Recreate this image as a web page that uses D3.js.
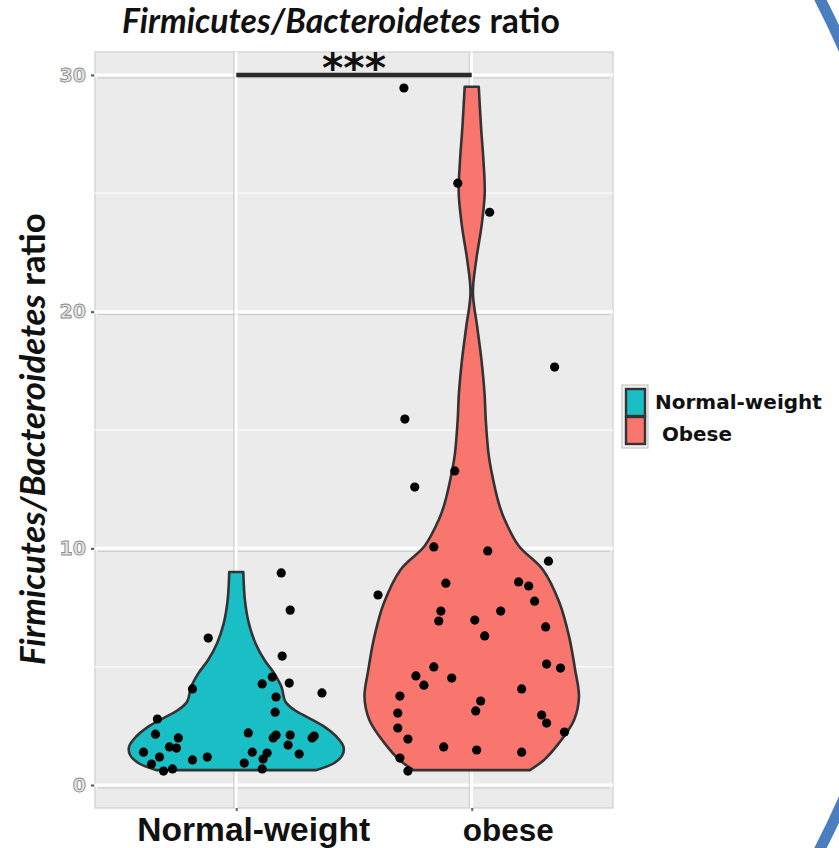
<!DOCTYPE html>
<html>
<head>
<meta charset="utf-8">
<script src="https://cdn.jsdelivr.net/npm/d3@7"></script>
<style>
  html, body { margin: 0; padding: 0; background: #fff; }
  svg { display: block; }
</style>
</head>
<body>
<svg id="chart" width="839" height="848"></svg>
<script>
// ---------------- DATA ----------------
const categories = ["Normal-weight", "obese"];
const legendLabels = ["Normal-weight", " Obese"];
const groupColors = ["#19BFC4", "#F8766D"];
const yTicks = [0, 10, 20, 30];
const yMinorTicks = [5, 15, 25];
const titleItalic = "Firmicutes/Bacteroidetes";
const titlePlain = " ratio";
const significance = "***";

// individual observations (value) and horizontal jitter (fraction of category spacing)
const normalValues = [8.96, 7.39, 6.21, 5.45, 4.56, 4.27, 4.31, 3.89, 4.06, 3.72, 3.08, 2.79, 2.15, 2.20, 1.99, 2.11, 2.11, 1.69, 1.99, 2.07, 1.99, 1.61, 1.56, 1.39, 1.18, 1.06, 1.18, 1.39, 1.35, 1.31, 0.89, 0.59, 0.68, 0.93, 1.10, 0.68];
const normalJitter = [0.191, 0.229, -0.119, 0.195, 0.153, 0.110, 0.225, 0.364, -0.186, 0.169, 0.165, -0.335, -0.343, 0.051, 0.157, 0.169, 0.229, 0.220, 0.322, 0.331, -0.246, -0.284, -0.254, -0.394, -0.326, -0.186, -0.123, 0.068, 0.131, 0.267, -0.360, -0.309, -0.271, 0.034, 0.114, 0.110];
const obeseValues = [29.45, 25.43, 24.2, 17.66, 15.46, 12.59, 13.27, 10.06, 9.89, 9.46, 8.03, 8.53, 8.58, 8.41, 7.77, 7.35, 6.93, 6.97, 7.35, 6.30, 6.68, 5.11, 4.94, 4.99, 4.61, 4.22, 4.52, 4.06, 3.76, 3.55, 3.13, 3.04, 2.96, 2.62, 2.41, 2.24, 1.94, 1.61, 1.48, 1.39, 1.14, 0.59];
const obeseJitter = [-0.288, -0.059, 0.076, 0.352, -0.284, -0.242, -0.072, -0.161, 0.068, 0.326, -0.398, -0.110, 0.199, 0.242, 0.267, -0.131, -0.140, 0.013, 0.123, 0.055, 0.314, 0.318, 0.377, -0.161, -0.237, -0.203, -0.085, 0.212, -0.305, 0.038, 0.017, -0.314, 0.297, 0.318, -0.314, 0.394, -0.271, -0.119, 0.021, 0.212, -0.305, -0.271];

// violin density profiles (value, relative density 0..1)
const normalProfileV = [0.63, 0.92, 1.27, 1.62, 2.04, 2.46, 2.82, 3.17, 3.52, 4.15, 4.72, 5.28, 6.0, 6.83, 7.8, 9.0];
const normalProfileD = [0.74, 0.90, 0.98, 0.99, 0.926, 0.815, 0.676, 0.537, 0.454, 0.417, 0.35, 0.26, 0.176, 0.116, 0.08, 0.065];
const obeseProfileV = [0.63, 1.06, 1.77, 2.75, 3.72, 4.86, 6.25, 7.7, 9.1, 10.1, 11.2, 11.9, 13.3, 14.0, 15.4, 16.56, 17.95, 19.35, 20.8, 22.2, 23.6, 25.0, 26.4, 27.8, 29.5];
const obeseProfileD = [0.537, 0.667, 0.805, 0.945, 0.99, 0.955, 0.90, 0.81, 0.657, 0.435, 0.305, 0.25, 0.18, 0.155, 0.13, 0.118, 0.09, 0.051, 0.011, 0.042, 0.09, 0.12, 0.108, 0.086, 0.065];

// ---------------- DRAWING ----------------
const svg = d3.select("#chart");
const panel = { left: 95, right: 613, top: 52, bottom: 808 };

const x = d3.scaleLinear().domain([-0.6, 1.6]).range([panel.left, panel.right]);
const y = d3.scaleLinear().domain([-0.97, 30.97]).range([panel.bottom, panel.top]);
const w = d3.scaleLinear().domain([0, 1]).range([0, 0.46]);

function fitText(sel, target) {
  const node = sel.node();
  const fs = parseFloat(sel.attr("font-size"));
  const len = node.getComputedTextLength();
  sel.attr("font-size", fs * target / len);
}

// decorative slide circle (blue arc at right)
svg.append("circle")
  .attr("cx", -4).attr("cy", 424).attr("r", 927)
  .attr("fill", "none").attr("stroke", "#4A7EBF").attr("stroke-width", 11);

// panel background
svg.append("rect")
  .attr("x", panel.left).attr("y", panel.top)
  .attr("width", panel.right - panel.left).attr("height", panel.bottom - panel.top)
  .attr("fill", "#EBEBEB").attr("stroke", "#cfcfcf").attr("stroke-width", 1.2);

const grid = svg.append("g");
// minor gridlines
grid.selectAll(".minor").data(yMinorTicks).join("line")
  .attr("x1", panel.left).attr("x2", panel.right)
  .attr("y1", d => y(d)).attr("y2", d => y(d))
  .attr("stroke", "#fafafa").attr("stroke-width", 1.6);
// major gridlines (with faint grey echo as in the picture)
grid.selectAll(".majorShadow").data(yTicks).join("line")
  .attr("x1", panel.left + 3).attr("x2", panel.right - 3)
  .attr("y1", d => y(d) + 3).attr("y2", d => y(d) + 3)
  .attr("stroke", "#c9c9c9").attr("stroke-width", 1);
grid.selectAll(".major").data(yTicks).join("line")
  .attr("x1", panel.left).attr("x2", panel.right)
  .attr("y1", d => y(d)).attr("y2", d => y(d))
  .attr("stroke", "#ffffff").attr("stroke-width", 3);
grid.selectAll(".vShadow").data(categories.map((c, i) => i)).join("line")
  .attr("x1", d => x(d) - 2.5).attr("x2", d => x(d) - 2.5)
  .attr("y1", panel.top).attr("y2", panel.bottom)
  .attr("stroke", "#cdcdcd").attr("stroke-width", 1);
grid.selectAll(".vmajor").data(categories.map((c, i) => i)).join("line")
  .attr("x1", d => x(d)).attr("x2", d => x(d))
  .attr("y1", panel.top).attr("y2", panel.bottom)
  .attr("stroke", "#ffffff").attr("stroke-width", 2.5);

// y axis
const yAxis = svg.append("g")
  .attr("transform", `translate(${panel.left - 1},0)`)
  .call(d3.axisLeft(y).tickValues(yTicks).tickSize(3).tickPadding(5));
yAxis.select(".domain").remove();
yAxis.selectAll(".tick line").attr("stroke", "#555").attr("stroke-width", 2);
yAxis.selectAll(".tick text")
  .attr("font-family", "DejaVu Sans").attr("font-weight", "bold").attr("font-size", 19)
  .attr("fill", "#e4e4e4").attr("stroke", "#8c8c8c").attr("stroke-width", 0.9);

// x axis
const xAxis = svg.append("g")
  .attr("transform", `translate(0,${panel.bottom})`)
  .call(d3.axisBottom(x).tickValues([0, 1]).tickFormat(i => categories[i]).tickSize(3).tickPadding(8));
xAxis.select(".domain").remove();
xAxis.selectAll(".tick line").attr("stroke", "#666").attr("stroke-width", 2);
const xOffsets = [17, 36];
const xWidths = [233, 91];
xAxis.selectAll(".tick text")
  .attr("font-family", "Liberation Sans").attr("font-weight", "bold").attr("font-size", 30)
  .attr("fill", "#111").attr("dy", "0").attr("y", 33)
  .attr("dx", (d, i) => xOffsets[i])
  .each(function (d, i) { fitText(d3.select(this), xWidths[i]); });

// violins
const groups = [
  { v: normalProfileV, d: normalProfileD, vals: normalValues, jit: normalJitter },
  { v: obeseProfileV, d: obeseProfileD, vals: obeseValues, jit: obeseJitter }
];
const area = d3.area().curve(d3.curveCatmullRom.alpha(0.5));
groups.forEach((g, i) => {
  const prof = g.v.map((v, k) => ({ v, d: g.d[k] }));
  area.y(p => y(p.v))
    .x0(p => x(i - w(p.d)))
    .x1(p => x(i + w(p.d)));
  svg.append("path")
    .datum(prof)
    .attr("d", area)
    .attr("fill", groupColors[i])
    .attr("stroke", "#333")
    .attr("stroke-width", 2.6)
    .attr("stroke-linejoin", "round");
});

// points
groups.forEach((g, i) => {
  svg.append("g").selectAll("circle")
    .data(g.vals.map((v, k) => ({ v, j: g.jit[k] })))
    .join("circle")
    .attr("cx", p => x(i + p.j))
    .attr("cy", p => y(p.v))
    .attr("r", 4.6)
    .attr("fill", "#000");
});

// significance bar
svg.append("line")
  .attr("x1", x(0)).attr("x2", x(1))
  .attr("y1", y(30)).attr("y2", y(30))
  .attr("stroke", "#2a2a2a").attr("stroke-width", 4.5);
const star = svg.append("text")
  .attr("x", (x(0) + x(1)) / 2 + 0).attr("y", y(30) + 7)
  .attr("text-anchor", "middle")
  .attr("font-family", "DejaVu Sans").attr("font-weight", "bold").attr("font-size", 40)
  .attr("fill", "#111")
  .text(significance);
fitText(star, 64);

// title
const title = svg.append("text")
  .attr("x", 122).attr("y", 33)
  .attr("font-family", "Lato").attr("font-weight", "bold").attr("font-size", 32)
  .attr("fill", "#111");
title.append("tspan").attr("font-style", "italic").text(titleItalic);
title.append("tspan").text(titlePlain);
fitText(title, 438);

// y-axis title
const ylab = svg.append("text")
  .attr("transform", "translate(45,665) rotate(-90)")
  .attr("x", 0).attr("y", 0)
  .attr("font-family", "Lato").attr("font-weight", "bold").attr("font-size", 27)
  .attr("fill", "#111");
ylab.append("tspan").attr("font-style", "italic").text(titleItalic);
ylab.append("tspan").text(titlePlain);
fitText(ylab, 452);

// legend
const legend = svg.append("g");
legend.append("rect")
  .attr("x", 622).attr("y", 385).attr("width", 26).attr("height", 63)
  .attr("fill", "#f2f2f2").attr("stroke", "#bbb").attr("stroke-width", 1);
const keyY = [389, 417];
legendLabels.forEach((lab, i) => {
  legend.append("rect")
    .attr("x", 626).attr("y", keyY[i]).attr("width", 19).attr("height", 27)
    .attr("fill", groupColors[i]).attr("stroke", "#333").attr("stroke-width", 2.4);
});
const legendBase = [409, 441];
const legendWidths = [167, 77];
legendLabels.forEach((lab, i) => {
  const t = legend.append("text")
    .attr("x", 655).attr("y", legendBase[i])
    .attr("font-family", "DejaVu Sans").attr("font-weight", "bold").attr("font-size", 20)
    .attr("fill", "#111").attr("xml:space", "preserve")
    .style("white-space", "pre")
    .text(lab);
  fitText(t, legendWidths[i]);
});
</script>
</body>
</html>
